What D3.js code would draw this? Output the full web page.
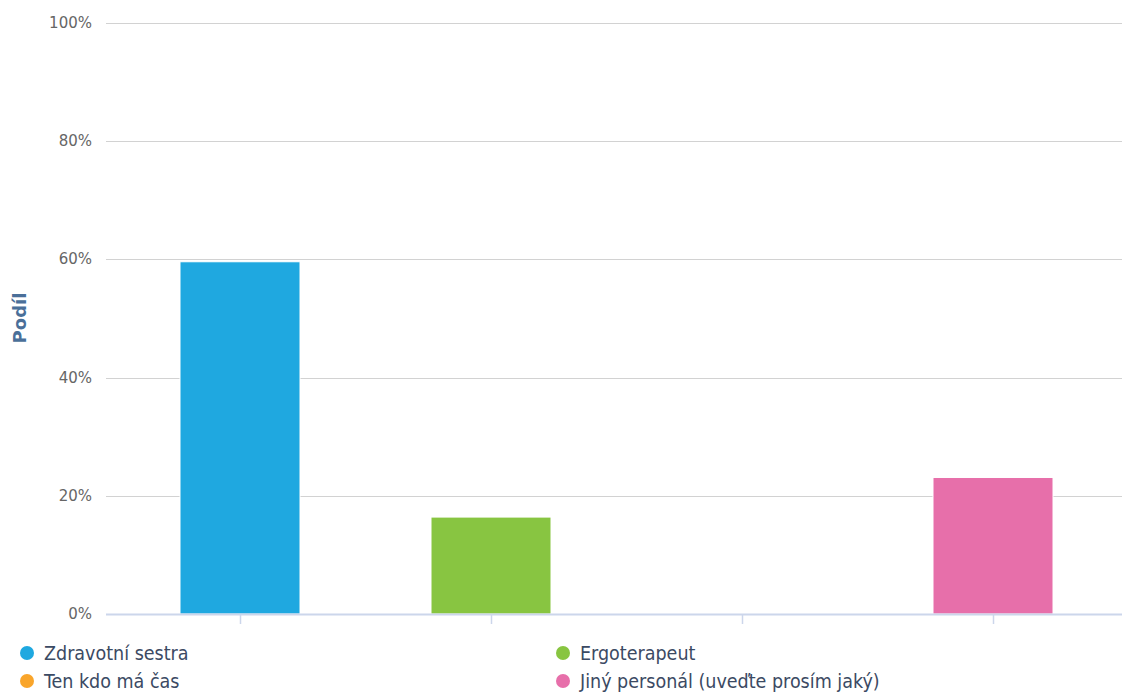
<!DOCTYPE html>
<html>
<head>
<meta charset="utf-8">
<script src="https://cdn.jsdelivr.net/npm/d3@7"></script>
<style>
  body { margin: 0; background: #fff; }
  svg { display: block; font-family: "DejaVu Sans", sans-serif; }
</style>
</head>
<body>
<div id="chart"></div>
<script>
const categories = ['Zdravotní sestra', 'Ergoterapeut', 'Ten kdo má čas', 'Jiný personál (uveďte prosím jaký)'];
const values = [59.6, 16.4, 0, 23.1];
const colors = ['#1fa8e0', '#88c541', '#f9a52b', '#e76faa'];
const yTicks = [0, 20, 40, 60, 80, 100];

const width = 1122;
const height = 697;
const plot = { left: 106, right: 1122, top: 23, bottom: 614 };

const svg = d3.select('#chart')
  .append('svg')
  .attr('width', width)
  .attr('height', height);

const x = d3.scaleBand()
  .domain(categories)
  .range([114.5, 1118.5]);

const y = d3.scaleLinear()
  .domain([0, 100])
  .range([plot.bottom, plot.top]);

// grid lines
svg.append('g')
  .selectAll('line')
  .data(yTicks.filter((d) => d > 0))
  .enter()
  .append('line')
  .attr('x1', plot.left)
  .attr('x2', plot.right)
  .attr('y1', (d) => Math.round(y(d)) + 0.5)
  .attr('y2', (d) => Math.round(y(d)) + 0.5)
  .attr('stroke', '#d2d2d2')
  .attr('stroke-width', 1);

// y labels
svg.append('g')
  .selectAll('text')
  .data(yTicks)
  .enter()
  .append('text')
  .attr('x', 92)
  .attr('y', (d) => y(d) + 5)
  .attr('text-anchor', 'end')
  .attr('fill', '#666')
  .style('font-size', '15px')
  .text((d) => `${d}%`);

// y title
svg.append('text')
  .attr('transform', `translate(26,318) rotate(-90)`)
  .attr('text-anchor', 'middle')
  .attr('fill', '#4a6f99')
  .style('font-size', '18px')
  .style('font-weight', 'bold')
  .text('Podíl');

// bars
const barW = 120;
svg.append('g')
  .selectAll('rect')
  .data(categories)
  .enter()
  .append('rect')
  .attr('x', (d) => x(d) + x.bandwidth() / 2 - barW / 2)
  .attr('y', (d, i) => y(values[i]))
  .attr('width', barW)
  .attr('height', (d, i) => plot.bottom - y(values[i]))
  .attr('fill', (d, i) => colors[i])
  .attr('stroke', '#fff')
  .attr('stroke-width', 1);

// x axis line + ticks
svg.append('line')
  .attr('x1', plot.left)
  .attr('x2', plot.right)
  .attr('y1', plot.bottom + 0.5)
  .attr('y2', plot.bottom + 0.5)
  .attr('stroke', '#ccd6eb')
  .attr('stroke-width', 2);

svg.append('g')
  .selectAll('line')
  .data(categories)
  .enter()
  .append('line')
  .attr('x1', (d) => Math.round(x(d) + x.bandwidth() / 2) + 0.5)
  .attr('x2', (d) => Math.round(x(d) + x.bandwidth() / 2) + 0.5)
  .attr('y1', plot.bottom)
  .attr('y2', plot.bottom + 10)
  .attr('stroke', '#ccd6eb')
  .attr('stroke-width', 1.5);

// legend
const legendPos = [[27, 653], [563, 653], [27, 681], [563, 681]];
const legend = svg.append('g')
  .selectAll('g')
  .data(categories)
  .enter()
  .append('g')
  .attr('transform', (d, i) => `translate(${legendPos[i][0]},${legendPos[i][1]})`);

legend.append('circle')
  .attr('r', 7)
  .attr('fill', (d, i) => colors[i]);

legend.append('text')
  .attr('x', 17)
  .attr('y', 7)
  .attr('fill', '#3b4a63')
  .style('font-size', '19.5px')
  .style('font-family', '"DejaVu Sans Condensed", "DejaVu Sans", sans-serif')
  .style('font-stretch', 'condensed')
  .text((d) => d);
</script>
</body>
</html>
